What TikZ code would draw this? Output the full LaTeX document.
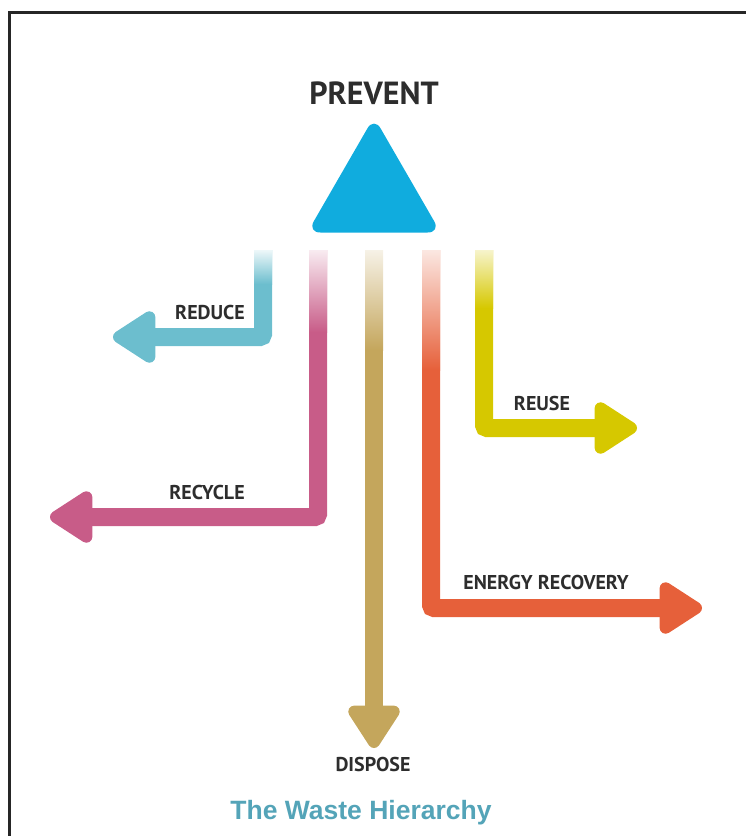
\documentclass[tikz,border=0pt]{standalone}
\usepackage{fontspec}
\setmainfont{PT Sans}
\newfontfamily\titlefont{Liberation Sans}
\usetikzlibrary{shapes.geometric, arrows.meta}

\definecolor{preventblue}{RGB}{16,172,222}
\definecolor{reduceteal}{RGB}{108,190,206}
\definecolor{recyclepink}{RGB}{200,92,136}
\definecolor{disposetan}{RGB}{196,166,92}
\definecolor{energyorange}{RGB}{230,96,58}
\definecolor{reuseyellow}{RGB}{214,200,0}
\definecolor{wordgray}{RGB}{45,45,45}
\definecolor{titleteal}{RGB}{84,164,184}

\begin{document}
\begin{tikzpicture}[
    x=1pt, y=-1pt,
    word/.style={
        font=\bfseries\fontsize{20}{24}\selectfont,
        text=wordgray, inner sep=0pt
    },
    flow/.style={
        line width=18pt, rounded corners=3pt,
        -{Triangle[width=58pt, length=48pt, round]}
    },
    tri/.style={
        regular polygon, regular polygon sides=3,
        minimum size=154pt, inner sep=0pt,
        fill=preventblue, rounded corners=13pt
    },
    boxline/.style={draw=black!85, line width=2.5pt}
]
\useasboundingbox (0,0) rectangle (745,836);

% 0. FRAME (only top and left edges show)
\coordinate (FrameBottom) at (9.5,845);
\coordinate (FrameRight) at (750,12.5);
\draw[boxline] (FrameBottom) |- (FrameRight);

% 1. TOP: Prevent
\node[word, font=\bfseries\fontsize{32}{36}\selectfont] (Prevent) at (374,93) {PREVENT};
\node[tri] (Tri) at (374,194) {};

% 2. ARROWS: start points and tips
\coordinate (ReduceTop) at (263,250);
\coordinate (RecycleTop) at (318,250);
\coordinate (DisposeTop) at (374,250);
\coordinate (EnergyTop) at (431,250);
\coordinate (ReuseTop) at (484,250);

\coordinate (ReduceTip) at (113,337);
\coordinate (RecycleTip) at (50,517);
\coordinate (DisposeTip) at (374,748);
\coordinate (EnergyTip) at (702,608);
\coordinate (ReuseTip) at (637,428);

\draw[flow, reduceteal] (ReduceTop) |- (ReduceTip);
\draw[flow, recyclepink] (RecycleTop) |- (RecycleTip);
\draw[flow, disposetan] (DisposeTop) -- (DisposeTip);
\draw[flow, energyorange] (EnergyTop) |- (EnergyTip);
\draw[flow, reuseyellow] (ReuseTop) |- (ReuseTip);

% faded tops of the bars
\shade[top color=reduceteal!12, bottom color=reduceteal] (254,250) rectangle (272,284);
\shade[top color=recyclepink!12, bottom color=recyclepink] (309,250) rectangle (327,332);
\shade[top color=disposetan!15, bottom color=disposetan] (365,250) rectangle (383,350);
\shade[top color=energyorange!15, bottom color=energyorange] (422,250) rectangle (440,370);
\shade[top color=reuseyellow!20, bottom color=reuseyellow] (475,250) rectangle (493,308);

% 3. LABELS
\node[word] (Reduce) at (210,312) {REDUCE};
\node[word] (Recycle) at (207,492) {RECYCLE};
\node[word] (Reuse) at (542,403) {REUSE};
\node[word] (Energy) at (546,582) {ENERGY RECOVERY};
\node[word] (Dispose) at (373,764) {DISPOSE};

% 4. TITLE
\node[font=\titlefont\bfseries\fontsize{26.5}{30}\selectfont, text=titleteal, inner sep=0pt] (Title) at (361,813) {The Waste Hierarchy};

\end{tikzpicture}
\end{document}
